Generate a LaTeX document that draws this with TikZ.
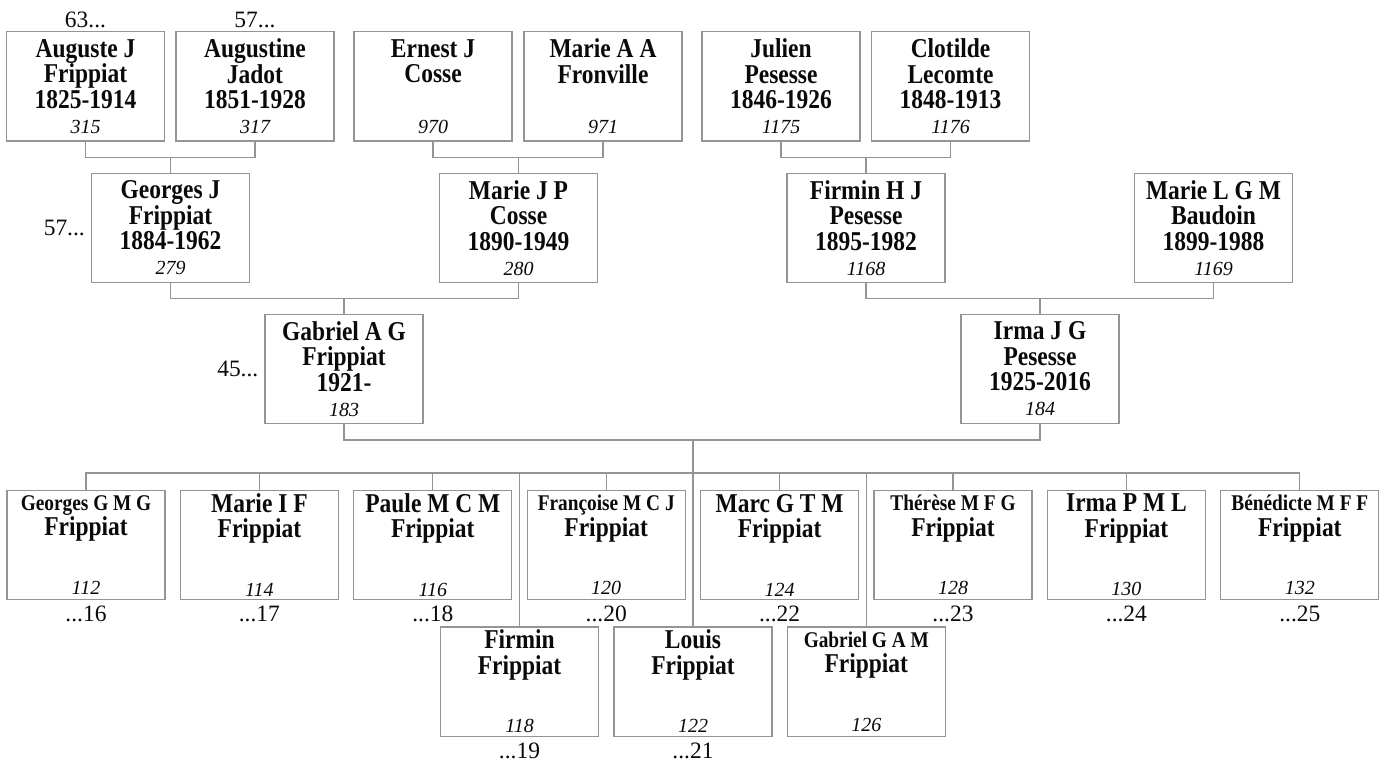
\documentclass[tikz,border=0pt]{standalone}
\usepackage{fontspec}
\usepackage{graphicx}
\setmainfont{Liberation Serif}
\usetikzlibrary{positioning}
\definecolor{TreeLine}{gray}{0.58}
\definecolor{TreeInk}{gray}{0.04}
\newcommand{\tall}[1]{\scalebox{1}[1.16]{#1}}
\newcommand{\refno}[1]{{\mdseries\itshape\fontsize{15}{19}\selectfont #1}}
\newcommand{\given}[1]{\tall{\fontsize{14.5}{19}\selectfont #1}}
\newcommand{\person}[4]{\tall{#1}\\\tall{#2}\\\tall{#3}\\\refno{#4}}
\newcommand{\child}[2]{#1\\\tall{Frippiat}\\[25pt]\refno{#2}}
\tikzset{
    tree/diagram/.style={
        x=0.75pt, y=-0.75pt,
        text=TreeInk,
        every node/.style={outer sep=0pt}
    },
    tree/person/.style={
        draw=TreeLine, line width=1pt, fill=white,
        minimum width=118.5pt, minimum height=82pt,
        inner sep=0pt, align=center,
        font=\fontsize{17.6}{19}\selectfont\bfseries
    },
    tree/link/.style={draw=TreeLine, line width=1pt},
    tree/tag/.style={inner sep=1pt, font=\fontsize{17.6}{19}\selectfont}
}

\begin{document}
\begin{tikzpicture}[tree/diagram]
    \useasboundingbox (0,0) rectangle (1383,762);

    % great-grandparents
    \node[tree/person] (auguste)   at (85.5,86.5)  {\person{Auguste J}{Frippiat}{1825-1914}{315}};
    \node[tree/person] (augustine) at (255,86.5)   {\person{Augustine}{Jadot}{1851-1928}{317}};
    \node[tree/person] (ernest)    at (433,86.5)   {\person{Ernest J}{Cosse}{}{970}};
    \node[tree/person] (marieaa)   at (603,86.5)   {\person{Marie A A}{Fronville}{}{971}};
    \node[tree/person] (julien)    at (781,86.5)   {\person{Julien}{Pesesse}{1846-1926}{1175}};
    \node[tree/person] (clotilde)  at (950.5,86.5) {\person{Clotilde}{Lecomte}{1848-1913}{1176}};
    \node[tree/tag, above=2pt of auguste]   (n63) {63...};
    \node[tree/tag, above=2pt of augustine] (n57) {57...};

    % grandparents
    \node[tree/person] (georges)  at (170.5,228)  {\person{Georges J}{Frippiat}{1884-1962}{279}};
    \node[tree/person] (mariejp)  at (518.5,228)  {\person{Marie J P}{Cosse}{1890-1949}{280}};
    \node[tree/person] (firminhj) at (866,228)    {\person{Firmin H J}{Pesesse}{1895-1982}{1168}};
    \node[tree/person] (marielgm) at (1213.5,228) {\person{Marie L G M}{Baudoin}{1899-1988}{1169}};
    \node[tree/tag, left=4pt of georges] (g57) {57...};

    % parents
    \node[tree/person] (gabriel) at (344,369)  {\person{Gabriel A G}{Frippiat}{1921-}{183}};
    \node[tree/person] (irma)    at (1040,369) {\person{Irma J G}{Pesesse}{1925-2016}{184}};
    \node[tree/tag, left=4pt of gabriel] (p45) {45...};

    % children
    \node[tree/person] (georgesg)  at (86,545)      {\child{\given{Georges G M G}}{112}};
    \node[tree/person] (mariei)    at (259.4,545)   {\child{\tall{Marie I F}}{114}};
    \node[tree/person] (paule)     at (432.8,545)   {\child{\tall{Paule M C M}}{116}};
    \node[tree/person] (francoise) at (606.2,545)   {\child{\given{Françoise M C J}}{120}};
    \node[tree/person] (marc)      at (779.6,545)   {\child{\tall{Marc G T M}}{124}};
    \node[tree/person] (therese)   at (953,545)     {\child{\given{Thérèse M F G}}{128}};
    \node[tree/person] (irmap)     at (1126.4,545)  {\child{\tall{Irma P M L}}{130}};
    \node[tree/person] (benedicte) at (1299.8,545)  {\child{\given{Bénédicte M F F}}{132}};
    \node[tree/person] (firmin)    at (519.5,681.5) {\child{\tall{Firmin}}{118}};
    \node[tree/person] (louis)     at (693,681.5)   {\child{\tall{Louis}}{122}};
    \node[tree/person] (gabrielg)  at (866.3,681.5) {\child{\given{Gabriel G A M}}{126}};

    \node[tree/tag, below=4pt of georgesg]  (k16) {...16};
    \node[tree/tag, below=4pt of mariei]    (k17) {...17};
    \node[tree/tag, below=4pt of paule]     (k18) {...18};
    \node[tree/tag, below=4pt of francoise] (k20) {...20};
    \node[tree/tag, below=4pt of marc]      (k22) {...22};
    \node[tree/tag, below=4pt of therese]   (k23) {...23};
    \node[tree/tag, below=4pt of irmap]     (k24) {...24};
    \node[tree/tag, below=4pt of benedicte] (k25) {...25};
    \node[tree/tag, below=4pt of firmin]    (k19) {...19};
    \node[tree/tag, below=4pt of louis]     (k21) {...21};

    % couples
    \draw[tree/link] (georges.north) -- ++(0,-16) coordinate (cg);
    \draw[tree/link] (auguste.south) |- (cg) -| (augustine.south);
    \draw[tree/link] (mariejp.north) -- ++(0,-16) coordinate (cm);
    \draw[tree/link] (ernest.south) |- (cm) -| (marieaa.south);
    \draw[tree/link] (firminhj.north) -- ++(0,-16) coordinate (cf);
    \draw[tree/link] (julien.south) |- (cf) -| (clotilde.south);
    \draw[tree/link] (gabriel.north) -- ++(0,-16) coordinate (cga);
    \draw[tree/link] (georges.south) |- (cga) -| (mariejp.south);
    \draw[tree/link] (irma.north) -- ++(0,-16) coordinate (ci);
    \draw[tree/link] (firminhj.south) |- (ci) -| (marielgm.south);

    \coordinate (fam) at (693,440);
    \coordinate (sib) at (693,473);
    \draw[tree/link] (gabriel.south) |- (fam) -| (irma.south);
    \draw[tree/link] (fam) -- (sib);
    \draw[tree/link] (georgesg.north) |- (sib);
    \draw[tree/link] (mariei.north) |- (sib);
    \draw[tree/link] (paule.north) |- (sib);
    \draw[tree/link] (francoise.north) |- (sib);
    \draw[tree/link] (marc.north) |- (sib);
    \draw[tree/link] (therese.north) |- (sib);
    \draw[tree/link] (irmap.north) |- (sib);
    \draw[tree/link] (benedicte.north) |- (sib);
    \draw[tree/link] (firmin.north) |- (sib);
    \draw[tree/link] (louis.north) |- (sib);
    \draw[tree/link] (gabrielg.north) |- (sib);
\end{tikzpicture}
\end{document}
